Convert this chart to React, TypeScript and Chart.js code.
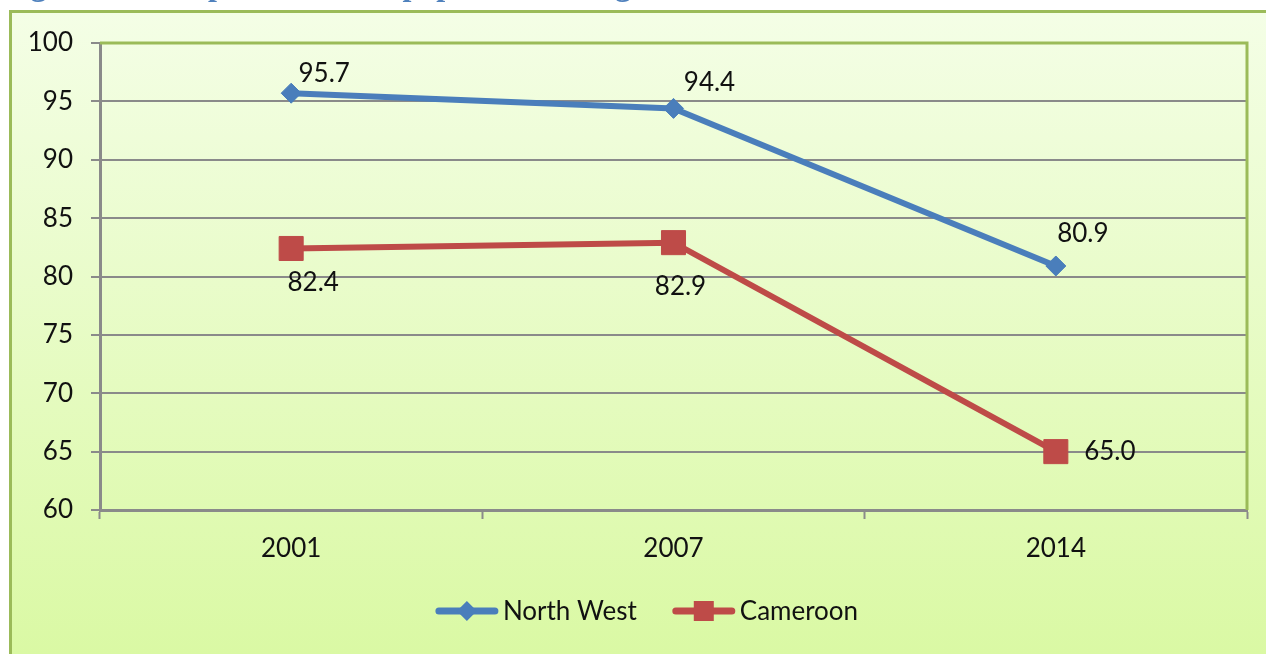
import React, { useEffect, useRef } from "react";
import { Chart, registerables } from "chart.js";

Chart.register(...registerables);

const categories = ["2001", "2007", "2014"];
const northWest = [95.7, 94.4, 80.9];
const cameroon = [82.4, 82.9, 65.0];
const yTicks = { min: 60, max: 100, step: 5 };
const seriesNames = ["North West", "Cameroon"];
const titleText = "Figure 4.5: Proportion of the population using solid fuel between 2001 and 2014";

// label offsets (px) relative to each point
const nwLabelOffsets = [[33, -20], [36, -26], [27, -32]];
const camLabelOffsets = [[22, 34], [7, 44], [54, 0]];

const BLUE = "#4A7EBB";
const RED = "#BE4B48";
const GRID = "#8A8A8A";
const GREEN = "#9BBB59";
const FONT = "Lato, 'Open Sans', sans-serif";

const decorPlugin = {
  id: "decor",
  beforeDraw(chart: any) {
    const { ctx, width, height } = chart;
    ctx.save();
    ctx.fillStyle = "#ffffff";
    ctx.fillRect(0, 0, width, height);
    // title (clipped at the top)
    ctx.fillStyle = "#4F81BD";
    ctx.font = "bold 32px 'Liberation Serif', serif";
    ctx.textBaseline = "alphabetic";
    ctx.textAlign = "left";
    ctx.fillText(titleText, 2, -5);
    // outer box
    const g = ctx.createLinearGradient(0, 12, 0, height);
    g.addColorStop(0, "#F4FEE6");
    g.addColorStop(1, "#DAF9A4");
    ctx.fillStyle = g;
    ctx.fillRect(10, 11, width, height);
    ctx.strokeStyle = GREEN;
    ctx.lineWidth = 3;
    ctx.beginPath();
    ctx.moveTo(10.5, height + 5);
    ctx.lineTo(10.5, 11.5);
    ctx.lineTo(width + 5, 11.5);
    ctx.stroke();
    ctx.restore();
  },
  beforeDatasetsDraw(chart: any) {
    const { ctx, chartArea } = chart;
    ctx.save();
    ctx.strokeStyle = GREEN;
    ctx.lineWidth = 3;
    ctx.beginPath();
    ctx.moveTo(chartArea.left, chartArea.top);
    ctx.lineTo(chartArea.right, chartArea.top);
    ctx.lineTo(chartArea.right, chartArea.bottom);
    ctx.stroke();
    ctx.restore();
  },
  afterDatasetsDraw(chart: any) {
    const { ctx } = chart;
    ctx.save();
    ctx.fillStyle = "#111111";
    ctx.font = `26px ${FONT}`;
    ctx.textAlign = "center";
    ctx.textBaseline = "middle";
    const offs = [nwLabelOffsets, camLabelOffsets];
    chart.data.datasets.forEach((ds: any, di: number) => {
      const meta = chart.getDatasetMeta(di);
      meta.data.forEach((pt: any, i: number) => {
        const v = ds.data[i] as number;
        ctx.fillText(v.toFixed(1), pt.x + offs[di][i][0], pt.y + offs[di][i][1]);
      });
    });
    ctx.restore();
  },
  afterDraw(chart: any) {
    const { ctx } = chart;
    ctx.save();
    ctx.font = `26px ${FONT}`;
    ctx.textBaseline = "middle";
    ctx.textAlign = "left";
    const cy = 611;
    const lineW = 62;
    const gap = 5;
    const between = 36;
    const w0 = ctx.measureText(seriesNames[0]).width;
    const w1 = ctx.measureText(seriesNames[1]).width;
    const total = lineW + gap + w0 + between + lineW + gap + w1;
    let x = 647 - total / 2;
    const items = [
      { name: seriesNames[0], color: BLUE, w: w0, marker: "diamond" },
      { name: seriesNames[1], color: RED, w: w1, marker: "square" },
    ];
    items.forEach((it) => {
      ctx.strokeStyle = it.color;
      ctx.lineWidth = 7;
      ctx.lineCap = "round";
      ctx.beginPath();
      ctx.moveTo(x + 3, cy);
      ctx.lineTo(x + lineW - 3, cy);
      ctx.stroke();
      ctx.fillStyle = it.color;
      const mx = x + lineW / 2;
      if (it.marker === "diamond") {
        ctx.beginPath();
        ctx.moveTo(mx - 10, cy);
        ctx.lineTo(mx, cy - 10);
        ctx.lineTo(mx + 10, cy);
        ctx.lineTo(mx, cy + 10);
        ctx.closePath();
        ctx.fill();
      } else {
        ctx.fillRect(mx - 10, cy - 10, 20, 20);
      }
      ctx.fillStyle = "#111111";
      ctx.fillText(it.name, x + lineW + gap, cy + 1);
      x += lineW + gap + it.w + between;
    });
    ctx.restore();
  },
};

export default function App() {
  const ref = useRef<HTMLCanvasElement | null>(null);
  useEffect(() => {
    if (!ref.current) return;
    const chart = new Chart(ref.current, {
      type: "line",
      data: {
        labels: categories,
        datasets: [
          {
            label: seriesNames[0],
            data: northWest,
            borderColor: BLUE,
            backgroundColor: BLUE,
            borderWidth: 6,
            pointStyle: "rectRot",
            pointRadius: 10,
            pointBorderWidth: 1,
            tension: 0,
          },
          {
            label: seriesNames[1],
            data: cameroon,
            borderColor: RED,
            backgroundColor: RED,
            borderWidth: 6,
            pointStyle: "rect",
            pointRadius: 17,
            pointBorderWidth: 1,
            tension: 0,
          },
        ],
      },
      options: {
        responsive: false,
        animation: false,
        layout: { padding: { top: 43, right: 19, left: 0, bottom: 0 } },
        plugins: { legend: { display: false }, tooltip: { enabled: false } },
        scales: {
          x: {
            offset: true,
            afterFit: (s: any) => {
              s.height = 144;
            },
            grid: {
              offset: true,
              drawOnChartArea: false,
              drawTicks: true,
              tickLength: 9,
              tickColor: GRID,
              tickWidth: 2,
            },
            border: { color: GRID, width: 3 },
            ticks: { color: "#111111", font: { family: FONT, size: 26 }, padding: 14 },
          },
          y: {
            min: yTicks.min,
            max: yTicks.max,
            afterFit: (s: any) => {
              s.width = 100;
            },
            grid: {
              color: (c: any) => (c.tick && c.tick.value === yTicks.max ? "rgba(0,0,0,0)" : GRID),
              lineWidth: 2,
              drawTicks: true,
              tickLength: 9,
              tickColor: GRID,
              tickWidth: 2,
            },
            border: { color: GRID, width: 3 },
            ticks: {
              stepSize: yTicks.step,
              color: "#111111",
              font: { family: FONT, size: 26 },
              padding: 18,
            },
          },
        },
      },
      plugins: [decorPlugin],
    });
    return () => chart.destroy();
  }, []);
  return (
    <div style={{ position: "fixed", left: 0, top: 0, width: 1266, height: 654 }}>
      <canvas ref={ref} width={1266} height={654} style={{ display: "block" }} />
    </div>
  );
}
